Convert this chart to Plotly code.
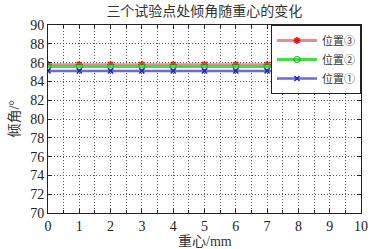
import plotly.graph_objects as go

x_vals = [0, 1, 2, 3, 4, 5, 6, 7, 8, 9, 10]
pos3 = [85.78] * 11
pos2 = [85.58] * 11
pos1 = [85.1] * 11
series_names = ["位置③", "位置②", "位置①"]

FONT = "Liberation Serif, Noto Sans CJK SC, serif"

fig = go.Figure()
fig.add_trace(go.Scatter(x=x_vals, y=pos3, name=series_names[0], mode="lines+markers",
                         line=dict(color="#ee8a8a", width=3),
                         marker=dict(symbol="asterisk-open", size=6, color="#e01010",
                                     line=dict(color="#e01010", width=1.5))))
fig.add_trace(go.Scatter(x=x_vals, y=pos2, name=series_names[1], mode="lines+markers",
                         line=dict(color="#44dd44", width=3),
                         marker=dict(symbol="circle-open", size=6, color="#22bb22",
                                     line=dict(color="#22bb22", width=1.2))))
fig.add_trace(go.Scatter(x=x_vals, y=pos1, name=series_names[2], mode="lines+markers",
                         line=dict(color="#6a6ad8", width=2.5),
                         marker=dict(symbol="x-thin-open", size=5, color="#2020c0",
                                     line=dict(color="#2020c0", width=1.5))))

fig.update_layout(
    width=375, height=249,
    margin=dict(l=48, r=14, t=25, b=36, autoexpand=False),
    paper_bgcolor="white", plot_bgcolor="white",
    font=dict(family=FONT, size=14, color="#222"),
    title=dict(text="三个试验点处倾角随重心的变化", x=0.545, xanchor="center",
               y=0.975, yanchor="top", font=dict(size=14, color="#333")),
    showlegend=True,
    legend=dict(x=1, xanchor="right", y=1, yanchor="top",
                bordercolor="#222", borderwidth=1, bgcolor="white",
                font=dict(size=11, color="#333"), tracegroupgap=0, itemwidth=40,
                traceorder="normal"),
    annotations=[
        dict(text="倾角/°", x=-0.11, y=0.5, xref="paper", yref="paper",
             textangle=-90, showarrow=False, font=dict(size=14, color="#333"),
             xanchor="center", yanchor="middle"),
        dict(text="重心/mm", x=0.5, y=-0.1, xref="paper", yref="paper",
             showarrow=False, font=dict(size=14, color="#333"),
             xanchor="center", yanchor="top"),
    ],
)
fig.update_xaxes(range=[0, 10], dtick=1, tick0=0, automargin=False,
                 showline=True, linecolor="#222", linewidth=1, mirror="ticks",
                 ticks="inside", ticklen=4, tickcolor="#222",
                 showgrid=True, gridcolor="#555", griddash="1px,2px", gridwidth=1,
                 minor=dict(dtick=0.5, showgrid=True, gridcolor="#555", griddash="1px,2px",
                            ticks="inside", ticklen=3, tickcolor="#222"),
                 zeroline=False,
                 tickfont=dict(size=14))
fig.update_yaxes(range=[70, 90], dtick=2, tick0=70, automargin=False,
                 showline=True, linecolor="#222", linewidth=1, mirror="ticks",
                 ticks="inside", ticklen=4, tickcolor="#222",
                 showgrid=True, gridcolor="#555", griddash="1px,2px", gridwidth=1,
                 zeroline=False,
                 tickfont=dict(size=14))

fig.write_html("out.html", config={"displayModeBar": False},
               post_script="document.body.style.margin='0';document.body.style.overflow='hidden';")
